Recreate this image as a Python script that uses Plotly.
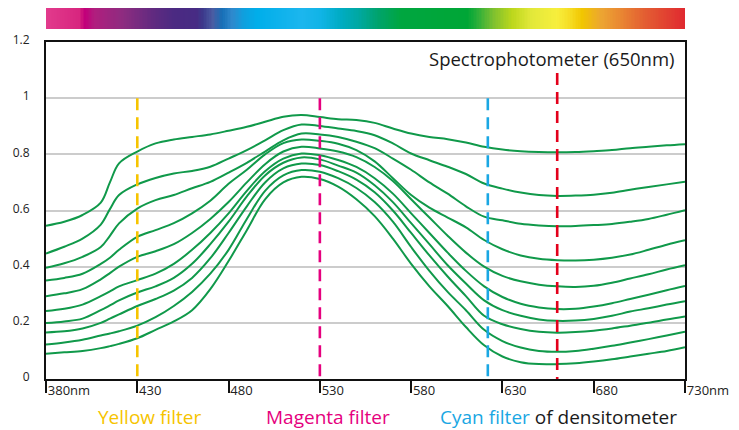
import plotly.graph_objects as go
import numpy as np

# ---------------- data ----------------
wavelengths = [380, 390, 400, 410, 415, 420, 430, 440, 450, 460, 470, 480, 490, 500, 510, 520,
               530, 540, 550, 560, 570, 580, 590, 600, 610, 620, 630, 640, 650, 660, 670, 680,
               690, 700, 710, 720, 730]

curve_1 = [0.546, 0.560, 0.584, 0.628, 0.700, 0.768, 0.810, 0.839, 0.853, 0.862, 0.871, 0.884, 0.898,
           0.916, 0.934, 0.940, 0.933, 0.925, 0.922, 0.912, 0.892, 0.874, 0.862, 0.854, 0.842, 0.827,
           0.817, 0.811, 0.808, 0.807, 0.808, 0.811, 0.815, 0.822, 0.827, 0.832, 0.836]
curve_2 = [0.447, 0.471, 0.500, 0.550, 0.605, 0.655, 0.693, 0.716, 0.732, 0.741, 0.756, 0.785, 0.815,
           0.850, 0.886, 0.906, 0.901, 0.892, 0.883, 0.868, 0.839, 0.803, 0.779, 0.756, 0.730, 0.696,
           0.678, 0.664, 0.655, 0.652, 0.653, 0.656, 0.663, 0.674, 0.684, 0.693, 0.702]
curve_3 = [0.396, 0.412, 0.435, 0.470, 0.510, 0.554, 0.607, 0.637, 0.655, 0.679, 0.702, 0.735, 0.770,
           0.810, 0.850, 0.874, 0.871, 0.862, 0.845, 0.822, 0.785, 0.745, 0.700, 0.660, 0.615, 0.578,
           0.565, 0.553, 0.547, 0.544, 0.545, 0.548, 0.552, 0.560, 0.570, 0.585, 0.601]
curve_4 = [0.351, 0.360, 0.375, 0.410, 0.432, 0.460, 0.506, 0.530, 0.555, 0.590, 0.635, 0.695, 0.745,
           0.800, 0.840, 0.853, 0.848, 0.838, 0.815, 0.775, 0.715, 0.655, 0.610, 0.575, 0.540, 0.495,
           0.462, 0.440, 0.428, 0.423, 0.422, 0.425, 0.432, 0.443, 0.460, 0.478, 0.494]
curve_5 = [0.295, 0.305, 0.320, 0.355, 0.377, 0.400, 0.435, 0.455, 0.480, 0.520, 0.570, 0.630, 0.700,
           0.765, 0.810, 0.827, 0.821, 0.810, 0.790, 0.755, 0.705, 0.640, 0.575, 0.510, 0.450, 0.400,
           0.367, 0.348, 0.336, 0.330, 0.328, 0.332, 0.343, 0.358, 0.373, 0.390, 0.405]
curve_6 = [0.242, 0.250, 0.265, 0.295, 0.312, 0.330, 0.352, 0.375, 0.410, 0.460, 0.520, 0.590, 0.670,
           0.740, 0.785, 0.803, 0.797, 0.780, 0.755, 0.715, 0.660, 0.590, 0.520, 0.450, 0.385, 0.330,
           0.292, 0.268, 0.255, 0.249, 0.250, 0.258, 0.270, 0.285, 0.300, 0.316, 0.331]
curve_7 = [0.199, 0.205, 0.215, 0.245, 0.262, 0.280, 0.308, 0.330, 0.360, 0.410, 0.480, 0.560, 0.650,
           0.725, 0.770, 0.789, 0.782, 0.760, 0.735, 0.690, 0.630, 0.555, 0.480, 0.405, 0.340, 0.280,
           0.245, 0.225, 0.212, 0.207, 0.208, 0.214, 0.225, 0.240, 0.252, 0.265, 0.277]
curve_8 = [0.166, 0.170, 0.180, 0.200, 0.215, 0.230, 0.260, 0.285, 0.315, 0.360, 0.430, 0.520, 0.615,
           0.700, 0.750, 0.767, 0.762, 0.740, 0.710, 0.665, 0.600, 0.520, 0.440, 0.365, 0.295, 0.225,
           0.195, 0.178, 0.168, 0.165, 0.167, 0.172, 0.180, 0.190, 0.200, 0.212, 0.223]
curve_9 = [0.123, 0.130, 0.140, 0.155, 0.162, 0.170, 0.190, 0.220, 0.260, 0.310, 0.375, 0.460, 0.570,
           0.670, 0.725, 0.744, 0.738, 0.715, 0.680, 0.630, 0.560, 0.470, 0.385, 0.310, 0.245, 0.175,
           0.135, 0.112, 0.100, 0.097, 0.100, 0.108, 0.118, 0.130, 0.142, 0.155, 0.168]
curve_10 = [0.090, 0.095, 0.100, 0.110, 0.117, 0.125, 0.145, 0.175, 0.205, 0.245, 0.320, 0.420, 0.530,
            0.640, 0.700, 0.720, 0.712, 0.685, 0.640, 0.580, 0.500, 0.410, 0.330, 0.260, 0.185, 0.120,
            0.080, 0.060, 0.053, 0.053, 0.056, 0.062, 0.070, 0.080, 0.090, 0.100, 0.113]
curves = [curve_1, curve_2, curve_3, curve_4, curve_5, curve_6, curve_7, curve_8, curve_9, curve_10]

filter_names = ["Yellow", "Magenta", "Cyan", "Spectrophotometer"]
filter_wavelengths = [430, 530, 622, 660]
filter_tops = [1.0, 1.0, 1.0, 1.09]
filter_colors = ["#f6c400", "#e5007e", "#1aa7e3", "#e3001b"]

x_tick_vals = [380, 430, 480, 530, 580, 630, 680, 730]
x_tick_text = ["380nm", "430", "480", "530", "580", "630", "680", "730nm"]
y_tick_vals = [0, 0.2, 0.4, 0.6, 0.8, 1.0, 1.2]
y_tick_text = ["0", "0.2", "0.4", "0.6", "0.8", "1", "1.2"]

spectrum_stops = [0.00, 0.05, 0.06, 0.075, 0.12, 0.17, 0.20, 0.235, 0.245, 0.26, 0.275, 0.29, 0.31,
                  0.33, 0.40, 0.43, 0.46, 0.49, 0.52, 0.555, 0.66, 0.675, 0.70, 0.73, 0.76, 0.80,
                  0.82, 0.84, 0.87, 0.90, 0.94, 1.00]
spectrum_colors = ["#e23a8c", "#d8267f", "#c2007a", "#b01e7e", "#8d2c80", "#5e2a80", "#4b2a82",
                   "#472b84", "#3c3a8c", "#4b5ca2", "#166fb7", "#2f88cc", "#0ea0df", "#00aeea",
                   "#1cb6ee", "#10b4e6", "#00acc4", "#00a8a0", "#00a36c", "#00a640", "#00a636",
                   "#28ae3a", "#7cc030", "#bcd71c", "#e2e83a", "#f7ef3c", "#f6dd24", "#f1c600",
                   "#eca532", "#e98732", "#e35c32", "#e02a30"]

# ---------------- figure ----------------
W, H = 739, 430
ml, mr, mt, mb = 46, 54, 8, 51
plot_h = H - mt - mb
plot_w = W - ml - mr
main_top = (379 - 42) / plot_h
bar_bottom = (379 - 29) / plot_h

fig = go.Figure()

GREEN = "#10994a"
for c in curves:
    fig.add_trace(go.Scatter(x=wavelengths, y=c, mode="lines",
                             line=dict(color=GREEN, width=2, shape="spline", smoothing=1.0),
                             hoverinfo="skip", showlegend=False))

for wl, top, col in zip(filter_wavelengths, filter_tops, filter_colors):
    fig.add_trace(go.Scatter(x=[wl, wl], y=[top, 0], mode="lines",
                             line=dict(color=col, width=2.6, dash="12px,7px"),
                             hoverinfo="skip", showlegend=False))

# spectrum bar
ncell = 400
zvals = np.linspace(0, 1, ncell)
fig.add_trace(go.Heatmap(z=[zvals], x=zvals, y=[0], xaxis="x2", yaxis="y2",
                         colorscale=[[s, c] for s, c in zip(spectrum_stops, spectrum_colors)],
                         showscale=False, hoverinfo="skip", zmin=0, zmax=1))

fig.update_layout(
    width=W, height=H,
    margin=dict(l=ml, r=mr, t=mt, b=mb, autoexpand=False),
    paper_bgcolor="white", plot_bgcolor="white",
    font=dict(family="Open Sans, sans-serif", color="#222"),
    xaxis=dict(range=[380, 730], tickvals=x_tick_vals, ticktext=x_tick_text,
               ticks="outside", ticklen=12, tickwidth=1.6, tickcolor="#111",
               ticklabelposition="outside right", tickfont=dict(size=13, color="#222"),
               ticklabelstandoff=-2,
               showline=True, linecolor="#111", linewidth=2, mirror=True,
               showgrid=False, zeroline=False, domain=[0, 1], automargin=False),
    yaxis=dict(range=[0, 1.2], tickvals=y_tick_vals, ticktext=y_tick_text,
               tickfont=dict(size=12, color="#222"), ticks="", ticklabelstandoff=12,
               ticklabelshift=-2,
               showline=True, linecolor="#111", linewidth=2, mirror=True,
               showgrid=True, gridcolor="#cccccc", gridwidth=1.5, zeroline=False,
               domain=[0, main_top], automargin=False),
    xaxis2=dict(range=[-0.5 / ncell, 1 + 0.5 / ncell], visible=False, anchor="y2", domain=[0, 1]),
    yaxis2=dict(range=[-0.5, 0.5], visible=False, anchor="x2", domain=[bar_bottom, 1]),
)

fig.add_annotation(text="Spectrophotometer (650nm)", xref="paper", yref="paper",
                   x=(677 - ml) / plot_w, y=(379 - 59) / plot_h,
                   xanchor="right", yanchor="middle", showarrow=False,
                   font=dict(size=18.5, color="#1a1a1a"))

label_y = (379 - 417) / plot_h
fig.add_annotation(text="Yellow filter", xref="paper", yref="paper",
                   x=(149 - ml) / plot_w, y=label_y, xanchor="center", yanchor="middle",
                   showarrow=False, font=dict(size=19, color="#f6c400"))
fig.add_annotation(text="Magenta filter", xref="paper", yref="paper",
                   x=(328 - ml) / plot_w, y=label_y, xanchor="center", yanchor="middle",
                   showarrow=False, font=dict(size=19, color="#e5007e"))
fig.add_annotation(text="<span style='color:#1aa7e3'>Cyan filter</span> of densitometer",
                   xref="paper", yref="paper",
                   x=(558 - ml) / plot_w, y=label_y, xanchor="center", yanchor="middle",
                   showarrow=False, font=dict(size=19, color="#1a1a1a"))

fig.write_html("out.html", config={"displayModeBar": False},
               post_script="document.body.style.margin='0';document.body.style.padding='0';")
